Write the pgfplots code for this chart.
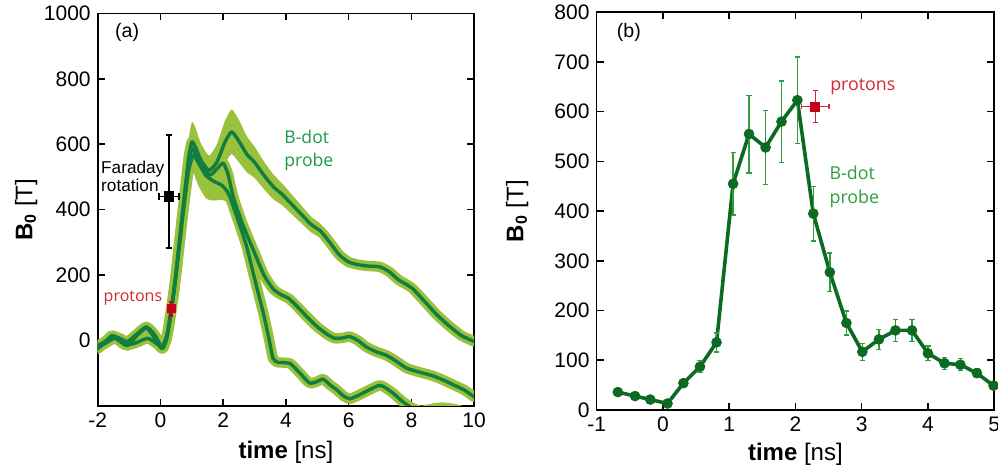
\documentclass[border=0pt]{standalone}
\usepackage{fontspec}
\setmainfont{Liberation Sans}
\newfontfamily\myriad{Open Sans}
\usepackage{pgfplots}
\pgfplotsset{compat=1.18}
\usepackage{pgfplotstable}
\usepgfplotslibrary{fillbetween}

\definecolor{bandcol}{HTML}{9AC13C}
\definecolor{adark}{HTML}{107E3E}
\definecolor{bdark}{HTML}{0D6A22}
\definecolor{berr}{HTML}{2F9D3C}
\definecolor{txtred}{HTML}{D2282E}
\definecolor{mkred}{HTML}{C8001E}
\definecolor{txtgreen}{HTML}{1B9A4B}

% B-dot traces, panel (a)
\pgfplotstableread{
x y
-2 -15
-1.75 -2
-1.55 15
-1.3 7
-1.05 -3
-0.75 20
-0.45 42
-0.2 20
0.05 -18
0.2 15
0.3 70
0.45 170
0.6 300
0.75 430
0.9 560
1.0 607
1.1 595
1.3 550
1.55 520
1.8 545
2.05 605
2.27 638
2.5 610
2.75 570
3.0 545
3.3 505
3.6 470
3.9 445
4.2 415
4.5 385
4.8 355
5.1 335
5.4 300
5.7 262
6.0 240
6.3 232
6.6 228
7.0 225
7.3 210
7.6 185
8.0 162
8.4 122
8.8 80
9.2 45
9.6 15
10 -3
}\curveA

\pgfplotstableread{
x y
-2 -20
-1.75 -8
-1.45 7
-1.13 -13
-0.81 -8
-0.4 7
-0.07 -13
0.09 -23
0.2 10
0.3 65
0.45 165
0.6 295
0.75 425
0.9 545
1.0 587
1.1 575
1.3 535
1.58 506
1.8 525
2.0 542
2.15 510
2.32 440
2.6 360
2.96 277
3.3 200
3.6 157
3.85 140
4.1 128
4.4 100
4.7 70
5.0 42
5.3 20
5.55 7
5.8 8
6.04 12
6.3 0
6.57 -20
6.9 -35
7.2 -45
7.5 -62
7.84 -84
8.2 -95
8.69 -108
9.0 -120
9.4 -138
9.7 -152
10 -172
}\curveB

\pgfplotstableread{
x y
-2 -25
-1.75 -5
-1.55 12
-1.3 0
-1.05 -15
-0.75 15
-0.45 38
-0.2 10
0.05 -25
0.2 5
0.3 60
0.45 160
0.6 285
0.75 410
0.9 520
1.05 567
1.2 545
1.45 505
1.68 488
1.95 475
2.1 460
2.21 440
2.5 360
2.75 287
3.0 190
3.28 84
3.45 10
3.59 -55
3.75 -67
3.86 -67
4.13 -70
4.3 -85
4.45 -100
4.76 -130
5.0 -125
5.19 -118
5.4 -135
5.61 -150
5.85 -170
6.04 -178
6.3 -168
6.57 -155
6.94 -138
7.1 -140
7.42 -161
7.7 -185
8.0 -205
8.3 -215
8.7 -208
9.0 -205
9.4 -210
9.7 -220
10 -240
}\curveC

% uncertainty bands
\pgfplotstableread{
x lo hi
0.6 280 320
0.75 395 465
0.9 505 615
1.0 547 667
1.1 535 655
1.3 500 600
1.55 475 565
1.8 490 600
2.05 540 670
2.27 570 706
2.5 545 675
2.75 515 625
3.0 497 593
3.3 463 547
3.6 432 508
3.9 412 478
4.2 385 445
4.5 358 412
4.8 331 379
5.1 313 357
5.4 282 318
5.7 248 276
6.0 230 250
}\bandA

\pgfplotstableread{
x lo hi
0.75 405 445
0.9 505 585
1.0 537 637
1.1 525 625
1.3 490 580
1.58 466 546
1.8 485 565
2.0 500 584
2.15 475 545
2.32 415 465
2.6 345 375
}\bandB

\pgfplotstableread{
x lo hi
0.75 390 430
0.9 485 555
1.05 512 622
1.2 475 615
1.45 435 575
1.68 428 548
1.95 430 520
2.1 425 495
2.21 412 468
2.5 345 375
}\bandC

% panel (b)
\pgfplotstableread{
x y ey
-0.68 36 0
-0.42 28 0
-0.19 21 0
0.07 13 0
0.31 54 7
0.56 87 12
0.81 136 19
1.06 455 63
1.30 555 78
1.55 528 74
1.79 580 82
2.03 623 87
2.27 395 55
2.52 277 39
2.77 175 24
3.01 117 17
3.26 142 20
3.51 160 22
3.76 160 22
4.00 114 15
4.25 94 12
4.49 91 12
4.74 74 9
4.99 49 0
}\bdata

\pgfplotsset{
  panel/.style={
    scale only axis,
    anchor=south west,
    axis line style={line width=0.8pt},
    tick style={line width=0.8pt, black},
    major tick length=3.5pt,
    tick align=inside,
    tick pos=both,
    clip mode=individual,
    ticklabel style={font=\fontsize{10.5}{12}\selectfont},
    label style={font=\fontsize{12}{14}\selectfont},
    /pgf/number format/assume math mode=true,
    /pgf/number format/1000 sep={},
    xlabel={\textbf{time} [ns]},
    ylabel={\textbf{B\textsubscript{0}} [T]},
  },
  bandline/.style={color=bandcol, line width=5.2pt, line join=round, line cap=round, smooth, tension=0.35},
  core/.style={color=adark, line width=1.7pt, line join=round, line cap=round, smooth, tension=0.35},
}

\begin{document}
\begin{tikzpicture}
\begin{axis}[panel,
  at={(48.85pt,34pt)}, width=188.2pt, height=196.3pt,
  xmin=-2, xmax=10, ymin=-200, ymax=1000,
  xtick={-2,0,...,10}, ytick={0,200,...,1000},
  ylabel style={at={(axis description cs:-0.19,0.5)}, anchor=center},
  xlabel style={at={(axis description cs:0.5,0)}, anchor=center, yshift=-23pt},
]
\addplot[draw=none, smooth, tension=0.35, name path=ahi, forget plot] table[x=x,y=hi] {\bandA};
\addplot[draw=none, smooth, tension=0.35, name path=alo, forget plot] table[x=x,y=lo] {\bandA};
\addplot[fill=bandcol, draw=none] fill between[of=ahi and alo];
\addplot[draw=none, smooth, tension=0.35, name path=bhi, forget plot] table[x=x,y=hi] {\bandB};
\addplot[draw=none, smooth, tension=0.35, name path=blo, forget plot] table[x=x,y=lo] {\bandB};
\addplot[fill=bandcol, draw=none] fill between[of=bhi and blo];
\addplot[draw=none, smooth, tension=0.35, name path=chi, forget plot] table[x=x,y=hi] {\bandC};
\addplot[draw=none, smooth, tension=0.35, name path=clo, forget plot] table[x=x,y=lo] {\bandC};
\addplot[fill=bandcol, draw=none] fill between[of=chi and clo];

\addplot[bandline] table[x=x,y=y] {\curveA};
\addplot[bandline] table[x=x,y=y] {\curveB};
\addplot[bandline] table[x=x,y=y] {\curveC};
\addplot[core] table[x=x,y=y] {\curveA};
\addplot[core] table[x=x,y=y] {\curveB};
\addplot[core] table[x=x,y=y] {\curveC};

% Faraday rotation
\addplot[black, mark=square*, mark size=2.4pt, only marks,
  error bars/.cd, x dir=both, x explicit, y dir=both, y explicit,
  error bar style={black, line width=0.9pt},
  error mark options={rotate=90, mark size=1.6pt, black, line width=0.9pt}]
  table[x=x, y=y, x error=ex, y error plus=ep, y error minus=em] {
x y ex ep em
0.27 440 0.31 188 156
};
% protons
\addplot[mkred, mark=square*, mark size=2pt, only marks,
  error bars/.cd, x dir=both, x explicit, y dir=both, y explicit,
  error bar style={mkred, line width=1.2pt},
  error mark options={rotate=90, mark size=1.2pt, mkred, line width=1.2pt}]
  table[x=x, y=y, x error=ex, y error=ey] {
x y ex ey
0.34 97 0.08 20
};

\node[anchor=west, font=\fontsize{9.8}{11}\selectfont] at (axis cs:-1.67,943) {(a)};
\node[anchor=base west, inner sep=0pt, font=\fontsize{8.6}{10}\selectfont] at (axis cs:-1.9,511) {Faraday};
\node[anchor=base west, inner sep=0pt, font=\fontsize{8.6}{10}\selectfont] at (axis cs:-1.9,457) {rotation};
\node[anchor=base west, inner sep=0pt, text=txtred, font=\myriad\fontsize{8}{10}\selectfont] at (axis cs:-1.82,119) {protons};
\node[anchor=base west, inner sep=0pt, text=txtgreen, font=\myriad\fontsize{8.8}{10}\selectfont] at (axis cs:3.94,601) {B-dot};
\node[anchor=base west, inner sep=0pt, text=txtgreen, font=\myriad\fontsize{8.8}{10}\selectfont] at (axis cs:3.94,531) {probe};
\end{axis}

\begin{axis}[panel,
  at={(298.3pt,32pt)}, width=198.8pt, height=198.9pt,
  xmin=-1, xmax=5, ymin=0, ymax=800,
  xtick={-1,0,...,5}, ytick={0,100,...,800},
  ylabel style={at={(axis description cs:-0.2,0.5)}, anchor=center},
  xlabel style={at={(axis description cs:0.5,0)}, anchor=center, yshift=-22pt},
]
\addplot[bdark, line width=1.8pt, line join=round, mark=*, mark size=2.5pt,
  mark options={fill=bdark, line width=0.3pt},
  error bars/.cd, y dir=both, y explicit,
  error bar style={berr, line width=0.7pt},
  error mark options={rotate=90, mark size=1.3pt, berr, line width=0.7pt}]
  table[x=x, y=y, y error=ey] {\bdata};

\addplot[mkred, mark=square*, mark size=2.2pt, only marks,
  error bars/.cd, x dir=both, x explicit, y dir=both, y explicit,
  error bar style={txtred, line width=0.7pt},
  error mark options={rotate=90, mark size=1.3pt, txtred, line width=0.7pt}]
  table[x=x, y=y, x error=ex, y error=ey] {
x y ex ey
2.30 610 0.21 32
};

\node[anchor=west, font=\fontsize{9.8}{11}\selectfont] at (axis cs:-0.8,760) {(b)};
\node[anchor=base west, inner sep=0pt, text=txtred, font=\myriad\fontsize{8.9}{11}\selectfont] at (axis cs:2.52,642) {protons};
\node[anchor=base west, inner sep=0pt, text=berr, font=\myriad\fontsize{8.9}{11}\selectfont] at (axis cs:2.51,463) {B-dot};
\node[anchor=base west, inner sep=0pt, text=berr, font=\myriad\fontsize{8.9}{11}\selectfont] at (axis cs:2.51,416) {probe};
\end{axis}

\pgfresetboundingbox
\path (0pt,0pt) rectangle (499pt,237pt);
\end{tikzpicture}
\end{document}
